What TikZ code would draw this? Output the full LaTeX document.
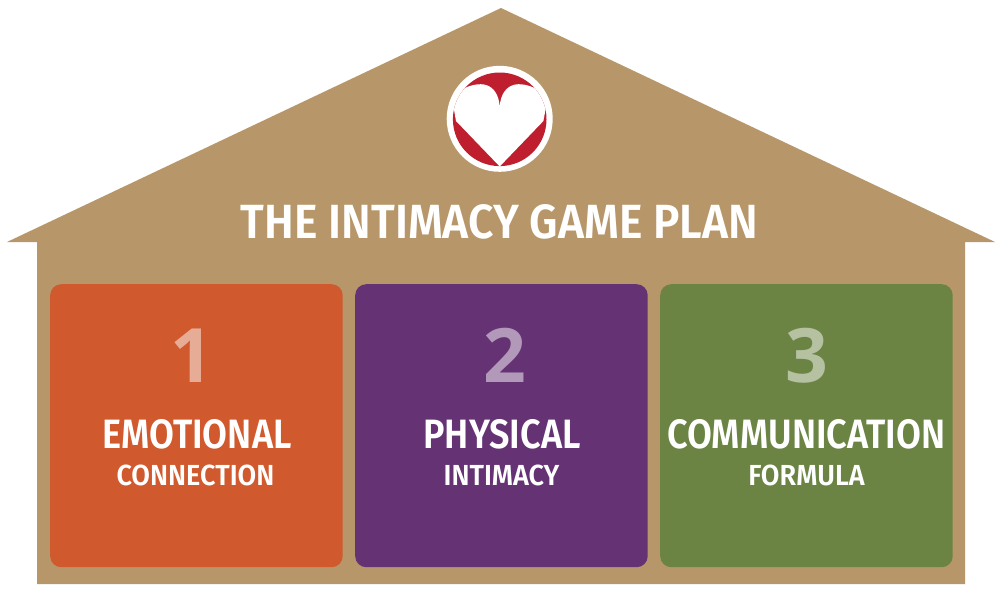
\documentclass[tikz,border=0pt]{standalone}
\usepackage{fontspec}
\setmainfont{Fira Sans}
\newfontfamily\titlefont[FakeStretch=0.925]{Fira Sans SemiBold}
\newfontfamily\bigfont[FakeStretch=0.88]{Fira Sans SemiBold}
\newfontfamily\smallfont[FakeStretch=0.932]{Fira Sans SemiBold}
\newfontfamily\numfont{Open Sans}
\definecolor{tan}{HTML}{B79769}
\definecolor{orangebox}{HTML}{D05A2E}
\definecolor{purplebox}{HTML}{653374}
\definecolor{greenbox}{HTML}{6B8444}
\definecolor{heartred}{HTML}{BE1E2D}
\tikzset{
  panel/.style={rounded corners=11pt,minimum width=292.5pt,minimum height=283pt,inner sep=0pt,anchor=north west},
  numeral/.style={text=white,text opacity=.5,font=\numfont\bfseries\fontsize{75}{75}\selectfont,anchor=base},
  bigword/.style={text=white,font=\bigfont\fontsize{41}{41}\selectfont,anchor=base,inner sep=0pt},
  smallword/.style={text=white,font=\smallfont\fontsize{29}{29}\selectfont,anchor=base,inner sep=0pt},
  titleword/.style={text=white,font=\titlefont\fontsize{48}{48}\selectfont,anchor=base,inner sep=0pt},
}
\begin{document}
\begin{tikzpicture}[x=1pt,y=-1pt]
\useasboundingbox (0,0) rectangle (1000,600);
\fill[white] (0,0) rectangle (1000,600);
\fill[tan] (501,8) -- (995,242) -- (965,242) -- (965,584) -- (37,584) -- (37,242) -- (7,242) -- cycle;
% emblem
\fill[white] (499.7,118.8) circle (53);
\begin{scope}
\clip (499.7,119.3) circle (46.8);
\fill[heartred] (440,60) rectangle (560,180);
\fill[white] (499.7,166.5) -- (456,121) -- (453.5,107)
  -- (446,70) -- (470,70) -- (463,89)
  .. controls (470,85) and (480,83) .. (486,85)
  .. controls (493,87) and (499,94) .. (499.7,107)
  .. controls (500.4,94) and (506.4,87) .. (513.4,85)
  .. controls (519.4,83) and (529.4,85) .. (536.4,89)
  -- (529.4,70) -- (553.4,70) -- (546,107)
  -- (543.4,121) -- cycle;
\end{scope}
\node[titleword] (title) at (499.5,238) {THE INTIMACY GAME PLAN};
\node[panel,fill=orangebox] (p1) at (50,284) {};
\node[panel,fill=purplebox] (p2) at (355,284) {};
\node[panel,fill=greenbox] (p3) at (660,284) {};
\node[numeral] (n1) at (192,382) {1};
\node[numeral] (n2) at (504.5,382) {2};
\node[numeral] (n3) at (807,382) {3};
\node[bigword] (b1) at (197,448) {EMOTIONAL};
\node[bigword] (b2) at (502,448) {PHYSICAL};
\node[bigword] (b3) at (806.5,448) {COMMUNICATION};
\node[smallword] (s1) at (195.5,485) {CONNECTION};
\node[smallword] (s2) at (501.5,485) {INTIMACY};
\node[smallword] (s3) at (806.5,485) {FORMULA};
\end{tikzpicture}
\end{document}
